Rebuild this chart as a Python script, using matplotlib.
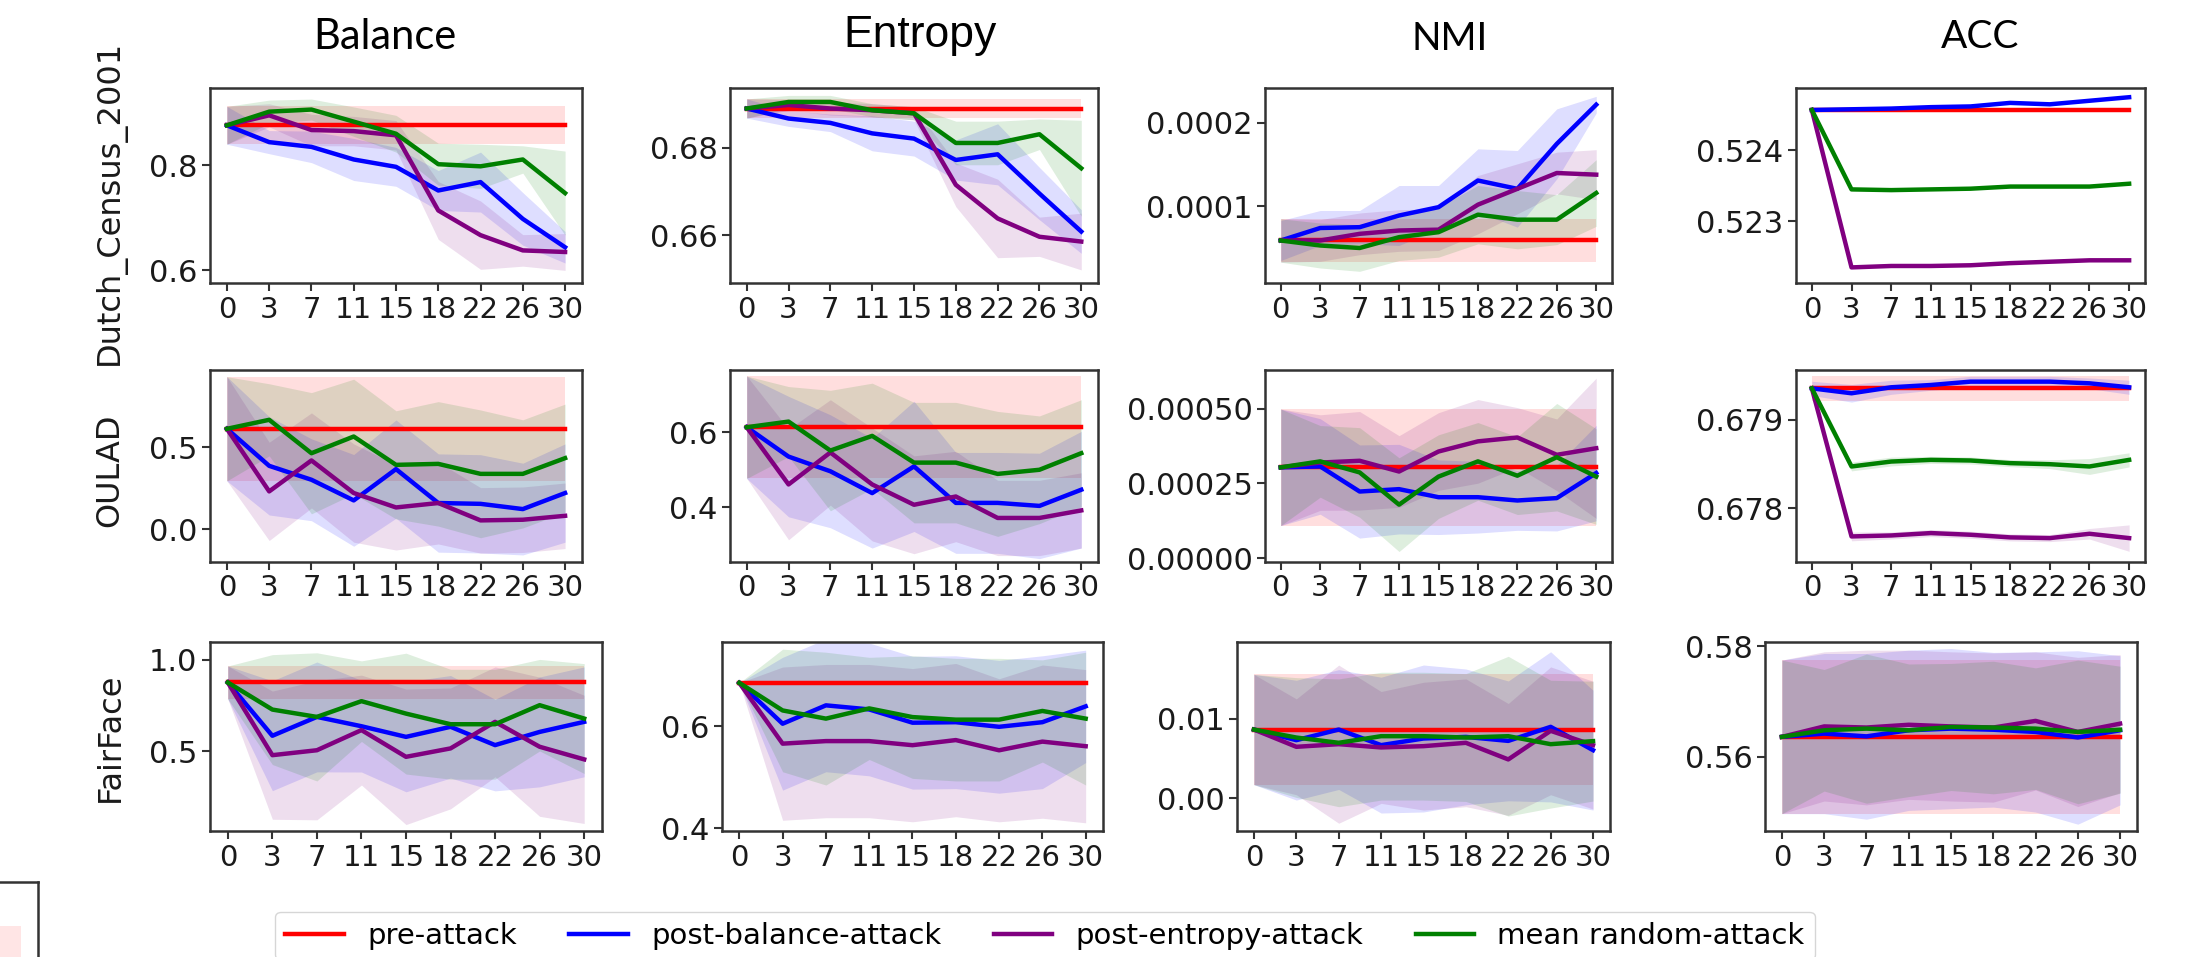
import matplotlib
matplotlib.use("Agg")
import matplotlib.pyplot as plt
from matplotlib.lines import Line2D

# ---------------- data ----------------
x_labels = ["0", "3", "7", "11", "15", "18", "22", "26", "30"]
series_names = ["pre-attack", "post-balance-attack", "post-entropy-attack", "mean random-attack"]
series_colors = ["red", "blue", "purple", "green"]
datasets = ["Dutch_Census_2001", "OULAD", "FairFace"]
metrics = ["Balance", "Entropy", "NMI", "ACC"]

# each *_mean / *_std: rows = pre, post-balance, post-entropy, random
dutch_balance_mean = [
    [0.876] * 9,
    [0.876, 0.844, 0.835, 0.811, 0.797, 0.752, 0.768, 0.698, 0.644],
    [0.876, 0.895, 0.867, 0.865, 0.857, 0.714, 0.667, 0.638, 0.635],
    [0.876, 0.902, 0.906, 0.883, 0.860, 0.802, 0.798, 0.811, 0.747],
]
dutch_balance_std = [
    [0.036] * 9,
    [0.036, 0.022, 0.030, 0.040, 0.037, 0.038, 0.057, 0.050, 0.030],
    [0.036, 0.022, 0.030, 0.028, 0.028, 0.055, 0.065, 0.030, 0.035],
    [0.036, 0.022, 0.020, 0.028, 0.035, 0.040, 0.042, 0.026, 0.080],
]
dutch_entropy_mean = [
    [0.689] * 9,
    [0.689, 0.6867, 0.6857, 0.6833, 0.6821, 0.6772, 0.6785, 0.6695, 0.6608],
    [0.689, 0.6898, 0.6890, 0.6886, 0.6879, 0.6715, 0.6638, 0.6596, 0.6585],
    [0.689, 0.6905, 0.6905, 0.6886, 0.6879, 0.6811, 0.6811, 0.6831, 0.6753],
]
dutch_entropy_std = [
    [0.0022] * 9,
    [0.0022, 0.0018, 0.0020, 0.0040, 0.0040, 0.0046, 0.0070, 0.0060, 0.0050],
    [0.0022, 0.0012, 0.0015, 0.0015, 0.0015, 0.0050, 0.0090, 0.0045, 0.0065],
    [0.0022, 0.0015, 0.0015, 0.0015, 0.0015, 0.0050, 0.0050, 0.0035, 0.0110],
]
dutch_nmi_mean = [
    [0.59e-4] * 9,
    [0.59e-4, 0.74e-4, 0.75e-4, 0.89e-4, 0.99e-4, 1.31e-4, 1.21e-4, 1.75e-4, 2.22e-4],
    [0.59e-4, 0.59e-4, 0.67e-4, 0.71e-4, 0.72e-4, 1.02e-4, 1.21e-4, 1.40e-4, 1.38e-4],
    [0.59e-4, 0.53e-4, 0.50e-4, 0.63e-4, 0.69e-4, 0.90e-4, 0.84e-4, 0.84e-4, 1.16e-4],
]
dutch_nmi_std = [
    [0.26e-4] * 9,
    [0.24e-4, 0.21e-4, 0.20e-4, 0.36e-4, 0.26e-4, 0.38e-4, 0.46e-4, 0.42e-4, 0.10e-4],
    [0.26e-4, 0.25e-4, 0.25e-4, 0.25e-4, 0.25e-4, 0.35e-4, 0.30e-4, 0.25e-4, 0.30e-4],
    [0.26e-4, 0.27e-4, 0.28e-4, 0.28e-4, 0.30e-4, 0.35e-4, 0.35e-4, 0.30e-4, 0.40e-4],
]
dutch_acc_mean = [
    [0.52457] * 9,
    [0.52457, 0.52458, 0.52459, 0.52461, 0.52462, 0.52467, 0.52465, 0.52470, 0.52475],
    [0.52457, 0.52235, 0.52237, 0.52237, 0.52238, 0.52241, 0.52243, 0.52245, 0.52245],
    [0.52457, 0.52345, 0.52344, 0.52345, 0.52346, 0.52349, 0.52349, 0.52349, 0.52353],
]
dutch_acc_std = [
    [0.00001] * 9,
    [0.00001] * 9,
    [0.00001] * 9,
    [0.00001] * 9,
]

oulad_balance_mean = [
    [0.612] * 9,
    [0.612, 0.386, 0.301, 0.175, 0.366, 0.159, 0.154, 0.122, 0.220],
    [0.612, 0.230, 0.419, 0.220, 0.132, 0.159, 0.053, 0.057, 0.081],
    [0.612, 0.667, 0.463, 0.565, 0.392, 0.398, 0.337, 0.337, 0.433],
]
oulad_balance_std = [
    [0.318] * 9,
    [0.318, 0.300, 0.250, 0.280, 0.300, 0.300, 0.300, 0.280, 0.300],
    [0.318, 0.300, 0.290, 0.300, 0.260, 0.250, 0.200, 0.200, 0.200],
    [0.318, 0.220, 0.370, 0.350, 0.330, 0.380, 0.390, 0.330, 0.330],
]
oulad_entropy_mean = [
    [0.613] * 9,
    [0.613, 0.535, 0.496, 0.438, 0.509, 0.412, 0.412, 0.404, 0.447],
    [0.613, 0.461, 0.546, 0.461, 0.407, 0.429, 0.372, 0.372, 0.392],
    [0.613, 0.628, 0.551, 0.590, 0.519, 0.519, 0.489, 0.500, 0.544],
]
oulad_entropy_std = [
    [0.136] * 9,
    [0.136, 0.160, 0.150, 0.146, 0.173, 0.134, 0.134, 0.140, 0.155],
    [0.136, 0.147, 0.140, 0.150, 0.130, 0.120, 0.100, 0.100, 0.100],
    [0.136, 0.093, 0.160, 0.140, 0.160, 0.160, 0.166, 0.143, 0.142],
]
oulad_nmi_mean = [
    [3.04e-4] * 9,
    [3.04e-4, 3.07e-4, 2.23e-4, 2.31e-4, 2.04e-4, 2.04e-4, 1.93e-4, 2.01e-4, 2.85e-4],
    [3.04e-4, 3.20e-4, 3.26e-4, 2.90e-4, 3.57e-4, 3.91e-4, 4.04e-4, 3.46e-4, 3.68e-4],
    [3.04e-4, 3.24e-4, 2.87e-4, 1.79e-4, 2.73e-4, 3.24e-4, 2.76e-4, 3.38e-4, 2.73e-4],
]
oulad_nmi_std = [
    [1.95e-4] * 9,
    [1.95e-4, 1.60e-4, 1.56e-4, 1.50e-4, 1.25e-4, 1.20e-4, 1.00e-4, 1.10e-4, 1.60e-4],
    [1.95e-4, 1.60e-4, 1.65e-4, 1.20e-4, 1.30e-4, 1.40e-4, 1.00e-4, 1.20e-4, 2.35e-4],
    [1.95e-4, 1.20e-4, 1.50e-4, 1.57e-4, 1.40e-4, 1.30e-4, 1.30e-4, 1.80e-4, 1.60e-4],
]
oulad_acc_mean = [
    [0.679358] * 9,
    [0.679358, 0.679302, 0.679370, 0.679396, 0.679434, 0.679434, 0.679434, 0.679415, 0.679370],
    [0.679358, 0.677679, 0.677690, 0.677717, 0.677698, 0.677668, 0.677660, 0.677709, 0.677660],
    [0.679358, 0.678472, 0.678528, 0.678547, 0.678540, 0.678510, 0.678498, 0.678472, 0.678547],
]
oulad_acc_std = [
    [0.00014] * 9,
    [0.00008, 0.00010, 0.00008, 0.00006, 0.00006, 0.00006, 0.00006, 0.00006, 0.00008],
    [0.00001, 0.00005, 0.00004, 0.00004, 0.00004, 0.00004, 0.00004, 0.00006, 0.00015],
    [0.00001, 0.00005, 0.00005, 0.00004, 0.00004, 0.00004, 0.00005, 0.00009, 0.00008],
]

fairface_balance_mean = [
    [0.875] * 9,
    [0.875, 0.584, 0.687, 0.636, 0.578, 0.633, 0.533, 0.605, 0.660],
    [0.875, 0.478, 0.505, 0.615, 0.469, 0.515, 0.660, 0.524, 0.455],
    [0.875, 0.727, 0.687, 0.773, 0.705, 0.647, 0.647, 0.751, 0.678],
]
fairface_balance_std = [
    [0.09] * 9,
    [0.09, 0.30, 0.30, 0.25, 0.30, 0.28, 0.25, 0.30, 0.30],
    [0.09, 0.35, 0.38, 0.30, 0.37, 0.33, 0.30, 0.38, 0.35],
    [0.09, 0.30, 0.35, 0.22, 0.33, 0.30, 0.30, 0.25, 0.30],
]
fairface_entropy_mean = [
    [0.685] * 9,
    [0.685, 0.605, 0.641, 0.633, 0.607, 0.608, 0.599, 0.608, 0.639],
    [0.685, 0.566, 0.571, 0.571, 0.563, 0.573, 0.553, 0.570, 0.561],
    [0.685, 0.631, 0.615, 0.635, 0.618, 0.613, 0.613, 0.630, 0.615],
]
fairface_entropy_std = [
    [0.0] * 9,
    [0.0, 0.13, 0.13, 0.13, 0.13, 0.13, 0.13, 0.13, 0.11],
    [0.0, 0.15, 0.15, 0.15, 0.15, 0.15, 0.14, 0.15, 0.15],
    [0.0, 0.12, 0.13, 0.10, 0.12, 0.12, 0.12, 0.10, 0.13],
]
fairface_nmi_mean = [
    [0.00862] * 9,
    [0.00862, 0.00729, 0.00862, 0.00667, 0.00750, 0.00770, 0.00720, 0.00896, 0.00604],
    [0.00862, 0.00646, 0.00679, 0.00638, 0.00654, 0.00696, 0.00488, 0.00846, 0.00667],
    [0.00862, 0.00762, 0.00696, 0.00779, 0.00779, 0.00762, 0.00779, 0.00679, 0.00717],
]
fairface_nmi_std = [
    [0.0069] * 9,
    [0.0069, 0.0075, 0.0075, 0.0085, 0.0092, 0.0085, 0.0075, 0.0094, 0.0075],
    [0.0069, 0.0060, 0.0099, 0.0070, 0.0080, 0.0080, 0.0070, 0.0080, 0.0080],
    [0.0069, 0.0075, 0.0080, 0.0080, 0.0080, 0.0080, 0.0100, 0.0080, 0.0075],
]
fairface_acc_mean = [
    [0.56361] * 9,
    [0.56361, 0.5642, 0.5637, 0.5648, 0.5651, 0.5649, 0.5645, 0.5635, 0.5648],
    [0.56361, 0.5655, 0.5653, 0.5658, 0.5655, 0.5653, 0.5665, 0.5645, 0.5660],
    [0.56361, 0.5648, 0.5651, 0.5648, 0.5654, 0.5653, 0.5651, 0.5645, 0.5649],
]
fairface_acc_std = [
    [0.0139] * 9,
    [0.0139, 0.0145, 0.0150, 0.0145, 0.0145, 0.0140, 0.0145, 0.0157, 0.0135],
    [0.0139, 0.0135, 0.0140, 0.0135, 0.0135, 0.0135, 0.0125, 0.0135, 0.0125],
    [0.0139, 0.0110, 0.0135, 0.0120, 0.0115, 0.0120, 0.0110, 0.0130, 0.0115],
]

panel_means = [
    [dutch_balance_mean, dutch_entropy_mean, dutch_nmi_mean, dutch_acc_mean],
    [oulad_balance_mean, oulad_entropy_mean, oulad_nmi_mean, oulad_acc_mean],
    [fairface_balance_mean, fairface_entropy_mean, fairface_nmi_mean, fairface_acc_mean],
]
panel_stds = [
    [dutch_balance_std, dutch_entropy_std, dutch_nmi_std, dutch_acc_std],
    [oulad_balance_std, oulad_entropy_std, oulad_nmi_std, oulad_acc_std],
    [fairface_balance_std, fairface_entropy_std, fairface_nmi_std, fairface_acc_std],
]

# y ticks (values and labels) per panel
panel_yticks = [
    [[0.6, 0.8], [0.66, 0.68], [0.0001, 0.0002], [0.523, 0.524]],
    [[0.0, 0.5], [0.4, 0.6], [0.0, 0.00025, 0.0005], [0.678, 0.679]],
    [[0.5, 1.0], [0.4, 0.6], [0.0, 0.01], [0.56, 0.58]],
]
panel_yticklabels = [
    [["0.6", "0.8"], ["0.66", "0.68"], ["0.0001", "0.0002"], ["0.523", "0.524"]],
    [["0.0", "0.5"], ["0.4", "0.6"], ["0.00000", "0.00025", "0.00050"], ["0.678", "0.679"]],
    [["0.5", "1.0"], ["0.4", "0.6"], ["0.00", "0.01"], ["0.56", "0.58"]],
]
panel_ylims = [
    [(0.576, 0.947), (0.649, 0.6937), (0.8e-5, 2.42e-4), (0.52213, 0.52488)],
    [(-0.201, 0.971), (0.255, 0.765), (-1.3e-5, 6.3e-4), (0.677389, 0.679566)],
    [(0.064, 1.096), (0.395, 0.765), (-0.00408, 0.01958), (0.54657, 0.58078)],
]

# ---------------- layout (pixels) ----------------
W, H = 2203, 957
ROW_Y = [(88, 283), (370, 562), (642, 831)]
COL_X = [
    [(210, 582), (730, 1098), (1265, 1612), (1796, 2145)],
    [(210, 582), (730, 1098), (1265, 1612), (1796, 2145)],
    [(210, 602), (722, 1103), (1237, 1610), (1765, 2137)],
]

fig = plt.figure(figsize=(W / 100, H / 100), dpi=100)
fig.patch.set_facecolor("white")


def add_px_axes(x0, x1, y0, y1):
    return fig.add_axes([x0 / W, 1 - y1 / H, (x1 - x0) / W, (y1 - y0) / H])


XTICK_FS = 21
YTICK_FS = 22
SPINE_C = "#333333"
LW = 3.2
xs = list(range(len(x_labels)))

for r in range(3):
    for c in range(4):
        x0, x1 = COL_X[r][c]
        y0, y1 = ROW_Y[r]
        ax = add_px_axes(x0, x1, y0, y1)
        means = panel_means[r][c]
        stds = panel_stds[r][c]
        for s in range(4):
            m = means[s]
            sd = stds[s]
            lo = [a - b for a, b in zip(m, sd)]
            hi = [a + b for a, b in zip(m, sd)]
            ax.fill_between(xs, lo, hi, color=series_colors[s], alpha=0.13, linewidth=0)
        for s in range(4):
            ax.plot(xs, means[s], color=series_colors[s], lw=LW)
        ax.set_xticks(xs)
        ax.set_xticklabels(x_labels)
        ax.set_yticks(panel_yticks[r][c])
        ax.set_yticklabels(panel_yticklabels[r][c])
        ax.set_ylim(*panel_ylims[r][c])
        ax.set_xlim(-0.4, 8.4)
        ax.tick_params(length=6, width=1.5, color=SPINE_C, pad=3, labelcolor="#1a1a1a")
        ax.tick_params(axis="x", labelsize=XTICK_FS)
        ax.tick_params(axis="y", labelsize=YTICK_FS)
        for sp in ax.spines.values():
            sp.set_color(SPINE_C)
            sp.set_linewidth(1.8)

# column titles
fig.text(385 / W, 1 - 37 / H, "Balance", fontsize=30, family="Lato",
         ha="center", va="center")
fig.text(920 / W, 1 - 35 / H, "Entropy", fontsize=32, family="Liberation Sans",
         ha="center", va="center")
fig.text(1450 / W, 1 - 39 / H, "NMI", fontsize=28, family="Lato",
         ha="center", va="center")
fig.text(1980 / W, 1 - 37 / H, "ACC", fontsize=28, family="Lato",
         ha="center", va="center")

# row labels
row_label_pos = [(110, 202), (110, 470), (110, 737)]
for name, (lx, ly) in zip(datasets, row_label_pos):
    fig.text(lx / W, 1 - ly / H, name, fontsize=23, rotation=90,
             ha="center", va="center", color="#1a1a1a")

# legend
handles = [Line2D([0], [0], color=col, lw=LW) for col in series_colors]
leg = fig.legend(handles, series_names, loc="upper center",
                 bbox_to_anchor=(1045 / W, 1 - 897 / H), ncol=4, fontsize=21,
                 frameon=True, handlelength=2.0, columnspacing=1.8,
                 borderpad=0.35)
leg.get_frame().set_edgecolor("#cccccc")

# cropped fragment at the bottom-left corner of the source image
frag = add_px_axes(-200, 38, 882, 1100)
frag.set_xlim(0, 1)
frag.set_ylim(0, 1)
frag.fill_between([0, 0.93], [0, 0], [0.8, 0.8], color="red", alpha=0.1, linewidth=0)
frag.set_xticks([])
frag.set_yticks([])
for sp in frag.spines.values():
    sp.set_color(SPINE_C)
    sp.set_linewidth(1.8)

fig.savefig("out.png", dpi=100)
